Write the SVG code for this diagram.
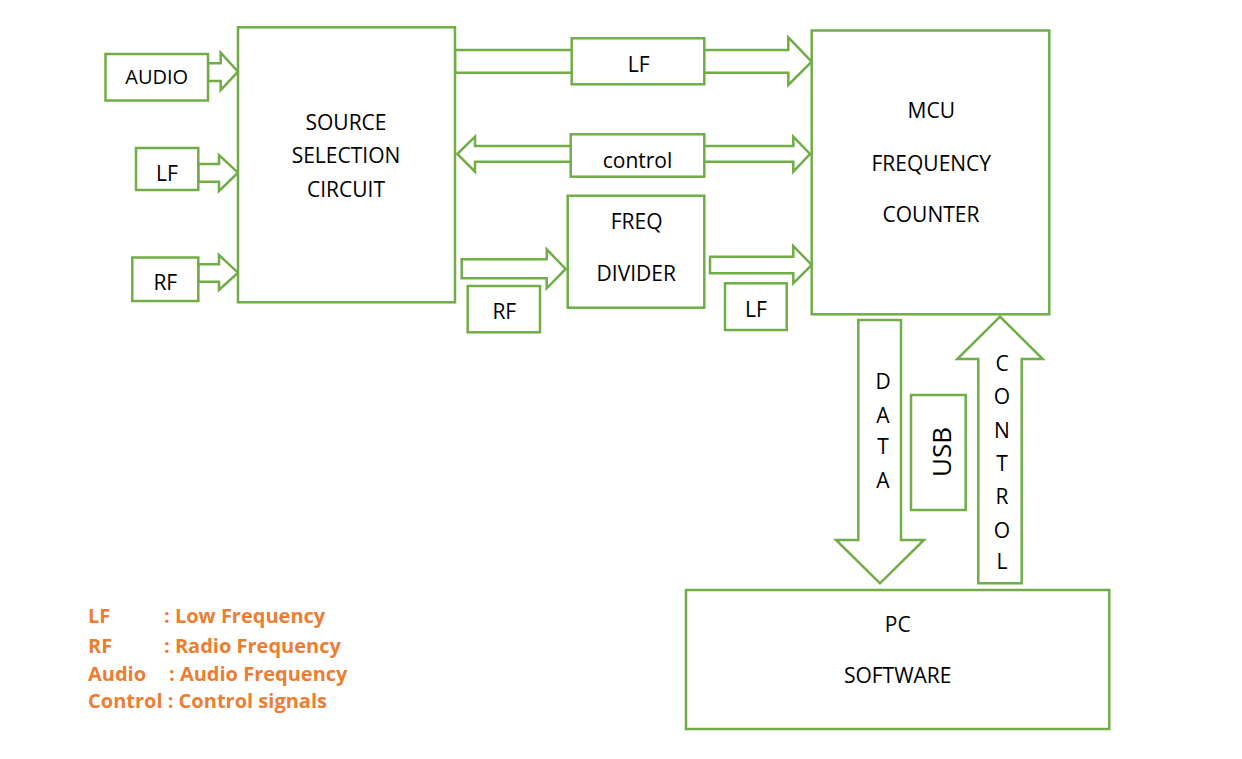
<svg xmlns="http://www.w3.org/2000/svg" width="1242" height="759" viewBox="0 0 1242 759">
<style>
.b{fill:#fff;stroke:#70AD47;stroke-width:2.5}
.a{fill:#fff;stroke:#70AD47;stroke-width:2.5;stroke-linejoin:miter}
.t{font-family:"Open Sans","Liberation Sans",sans-serif;font-size:21px;fill:#000;text-anchor:middle}
.u{font-family:"Open Sans","Liberation Sans",sans-serif;font-size:26px;fill:#000;text-anchor:middle}
.l{font-family:"Open Sans","Liberation Sans",sans-serif;font-size:20px;font-weight:bold;fill:#ED7D31}
</style>
<rect width="1242" height="759" fill="#fff"/>
<g id="connectors">
<polygon class="a" points="208,63.3 220.7,63.3 220.7,52.7 238,71.7 220.7,90 220.7,81 208,81"/>
<polygon class="a" points="198.3,164 219,164 219,155 238,172.7 219,191 219,181.7 198.3,181.7"/>
<polygon class="a" points="198.3,264.3 219,264.3 219,255 238,272.7 219,290 219,281.7 198.3,281.7"/>
<polygon class="a" points="455,50 788.3,50 788.3,37.3 811.7,61.7 788.3,85 788.3,72.7 455,72.7"/>
<polygon class="a" points="457.3,154 475,136.7 475,146 793.3,146 793.3,136.7 810,154 793.3,171.7 793.3,161.7 475,161.7 475,171.7"/>
<polygon class="a" points="461.7,259.3 546.7,259.3 546.7,249.3 565.7,269 546.7,288.3 546.7,278.3 461.7,278.3"/>
<polygon class="a" points="710,256.7 793.3,256.7 793.3,246 811.7,265 793.3,283.3 793.3,273.3 710,273.3"/>
<polygon class="a" points="858.3,320 901,320 901,540 924,540 880,583.3 836,540 858.3,540"/>
<polygon class="a" points="1000,316.7 1042.7,359 1021.7,359 1021.7,583.3 978.3,583.3 978.3,359 957.3,359"/>
</g>
<g id="source">
<rect class="b" x="238" y="27.3" width="217" height="275"/>
<text class="t" x="346" y="130">SOURCE</text>
<text class="t" x="346" y="163">SELECTION</text>
<text class="t" x="346" y="197">CIRCUIT</text>
</g>
<g id="in-audio">
<rect class="b" x="105.5" y="54" width="102.5" height="46.5"/>
<text class="t" x="156.7" y="84.3" style="font-size:20px">AUDIO</text>
</g>
<g id="in-lf">
<rect class="b" x="136" y="148" width="62.3" height="42"/>
<text class="t" x="167" y="180.7">LF</text>
</g>
<g id="in-rf">
<rect class="b" x="132.3" y="257.5" width="66" height="43.5"/>
<text class="t" x="165.3" y="290">RF</text>
</g>
<g id="lf-label-top">
<rect class="b" x="571.7" y="38.3" width="132.6" height="46"/>
<text class="t" x="638.7" y="72.3">LF</text>
</g>
<g id="control-label">
<rect class="b" x="570.7" y="134.3" width="133.6" height="42.4"/>
<text class="t" x="637.5" y="167.7">control</text>
</g>
<g id="freq-divider">
<rect class="b" x="567.7" y="195.7" width="136.6" height="112"/>
<text class="t" x="636.7" y="229.3">FREQ</text>
<text class="t" x="636.3" y="280.7">DIVIDER</text>
</g>
<g id="rf-label">
<rect class="b" x="467.7" y="286" width="72.3" height="46.3"/>
<text class="t" x="504.3" y="319">RF</text>
</g>
<g id="lf-label-bottom">
<rect class="b" x="725" y="283.3" width="61.7" height="46.7"/>
<text class="t" x="756" y="316.7">LF</text>
</g>
<g id="mcu">
<rect class="b" x="811.7" y="30.5" width="237.6" height="283.8"/>
<text class="t" x="931.3" y="117.7">MCU</text>
<text class="t" x="931.3" y="171">FREQUENCY</text>
<text class="t" x="931" y="221.7">COUNTER</text>
</g>
<g id="data-label">
<text class="t" x="883" y="389">D</text>
<text class="t" x="883" y="422.5">A</text>
<text class="t" x="883" y="454">T</text>
<text class="t" x="883" y="487.5">A</text>
</g>
<g id="usb">
<rect class="b" x="911" y="395" width="54.7" height="115"/>
<text class="u" transform="translate(950.5,452) rotate(-90)" x="0" y="0">USB</text>
</g>
<g id="control-vertical-label">
<text class="t" x="1002" y="371">C</text>
<text class="t" x="1002" y="404">O</text>
<text class="t" x="1002" y="437.5">N</text>
<text class="t" x="1002" y="470.5">T</text>
<text class="t" x="1002" y="504">R</text>
<text class="t" x="1002" y="537.5">O</text>
<text class="t" x="1002" y="569">L</text>
</g>
<g id="pc">
<rect class="b" x="686" y="590" width="423.3" height="139"/>
<text class="t" x="897.8" y="631.7">PC</text>
<text class="t" x="897.7" y="682.7">SOFTWARE</text>
</g>
<g id="legend">
<text class="l" x="88" y="623.3">LF</text>
<text class="l" x="164" y="623.3">: Low Frequency</text>
<text class="l" x="88" y="652.7">RF</text>
<text class="l" x="164" y="652.7">: Radio Frequency</text>
<text class="l" x="88" y="680.7">Audio</text>
<text class="l" x="169" y="680.7">: Audio Frequency</text>
<text class="l" x="88" y="708.3">Control : Control signals</text>
</g>
</svg>
